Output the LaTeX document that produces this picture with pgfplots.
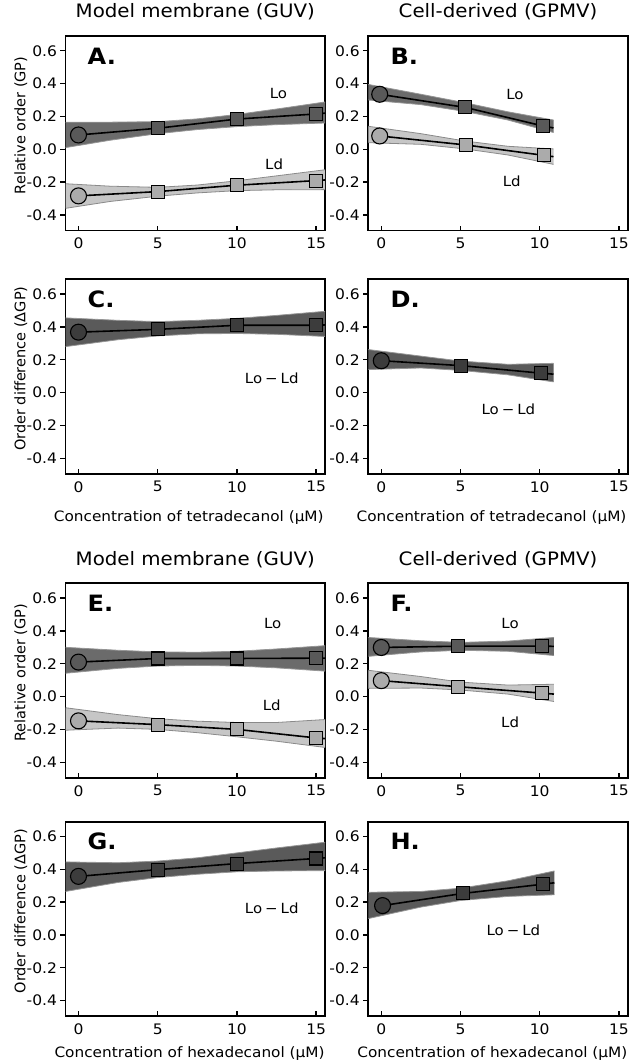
\documentclass[border=0pt]{standalone}
\usepackage{fontspec}
\setmainfont{DejaVu Sans}[FakeStretch=1.07]
\newfontfamily\ylfont{DejaVu Sans}
\usepackage{pgfplots}
\usepackage{pgfplotstable}
\pgfplotsset{compat=1.18}

\definecolor{locol}{HTML}{595959}
\definecolor{ldcol}{HTML}{ABABAB}
\definecolor{dfcol}{HTML}{3C3C3C}
\definecolor{loband}{HTML}{6B6B6B}
\definecolor{ldband}{HTML}{C6C6C6}
\definecolor{dfband}{HTML}{5A5A5A}
\definecolor{edgeA}{HTML}{959595}
\definecolor{edgeB}{HTML}{8A8A8A}

% band outlines: upper edge left->right, then lower edge right->left
\pgfplotstableread{
x y
-0.82 0.165
2 0.165
5 0.168
7.5 0.185
10 0.212
12.5 0.245
15.56 0.288
15.56 0.160
12.5 0.150
10 0.138
7.5 0.120
5 0.095
2 0.055
-0.82 0.010
}\aLoB
\pgfplotstableread{
x y
-0.82 -0.210
2 -0.225
5 -0.232
7.5 -0.218
10 -0.192
12.5 -0.162
15.56 -0.125
15.56 -0.246
12.5 -0.247
10 -0.252
7.5 -0.266
5 -0.286
2 -0.318
-0.82 -0.360
}\aLdB
\pgfplotstableread{
x y
-0.82 0.395
2.5 0.335
5.3 0.283
8 0.228
10.87 0.178
10.87 0.102
8 0.178
5.3 0.230
2.5 0.272
-0.82 0.300
}\bLoB
\pgfplotstableread{
x y
-0.82 0.140
2.5 0.095
5.3 0.050
8 0.018
10.87 0.002
10.87 -0.092
8 -0.035
5.3 0.002
2.5 0.030
-0.82 0.040
}\bLdB
\pgfplotstableread{
x y
-0.82 0.455
2.5 0.440
5 0.432
7.5 0.440
10 0.452
12.5 0.470
15.56 0.495
15.56 0.342
12.5 0.355
10 0.360
7.5 0.358
5 0.345
2.5 0.322
-0.82 0.280
}\cB
\pgfplotstableread{
x y
-0.82 0.262
2.5 0.222
5 0.192
8 0.172
10.87 0.178
10.87 0.065
8 0.108
5 0.135
2.5 0.150
-0.82 0.140
}\dB
\pgfplotstableread{
x y
-0.82 0.300
2.5 0.282
5 0.272
7.5 0.270
10 0.276
12.5 0.290
15.56 0.310
15.56 0.155
12.5 0.175
10 0.186
7.5 0.190
5 0.186
2.5 0.172
-0.82 0.142
}\eLoB
\pgfplotstableread{
x y
-0.82 -0.068
2.5 -0.110
5 -0.135
7.5 -0.150
10 -0.158
12.5 -0.158
15.56 -0.140
15.56 -0.310
12.5 -0.272
10 -0.245
7.5 -0.220
5 -0.200
2.5 -0.192
-0.82 -0.205
}\eLdB
\pgfplotstableread{
x y
-0.82 0.360
2.5 0.340
5 0.330
8 0.338
10.9 0.360
10.9 0.250
8 0.276
5 0.282
2.5 0.272
-0.82 0.245
}\fLoB
\pgfplotstableread{
x y
-0.82 0.160
2.5 0.122
5 0.088
8 0.070
10.9 0.075
10.9 -0.030
8 0.015
5 0.040
2.5 0.052
-0.82 0.050
}\fLdB
\pgfplotstableread{
x y
-0.82 0.445
2.5 0.440
5 0.450
7.5 0.470
10 0.500
12.5 0.530
15.56 0.565
15.56 0.392
12.5 0.390
10 0.385
7.5 0.370
5 0.350
2.5 0.320
-0.82 0.265
}\gB
\pgfplotstableread{
x y
-0.82 0.260
2.5 0.265
5 0.285
8 0.330
10.93 0.390
10.93 0.245
8 0.235
5 0.210
2.5 0.170
-0.82 0.100
}\hB

% #1 table, #2 number of points per edge, #3 fill, #4 edge colour
\newcommand{\band}[4]{%
  \addplot[fill=#3, draw=none, forget plot] table[x=x,y=y]{#1};
  \addplot[draw=#4, line width=0.8pt, forget plot, skip coords between index={#2}{100}] table[x=x,y=y]{#1};
  \addplot[draw=#4, line width=0.8pt, forget plot, skip coords between index={0}{#2}] table[x=x,y=y]{#1};
}

\pgfplotsset{
  panel/.style={
    width=259.5pt, height=194.5pt, scale only axis,
    anchor=north west,
    xmin=-0.82, xmax=15.56, ymin=-0.495, ymax=0.69,
    xtick={0,5,10,15}, xticklabels={0,5,10,15},
    ytick={-0.4,-0.2,0,0.2,0.4,0.6},
    yticklabels={-0.4,-0.2,0.0,0.2,0.4,0.6},
    xtick pos=left, ytick pos=left,
    xtick align=inside, ytick align=outside,
    major tick length=5pt,
    tick style={black, line width=1.4pt},
    axis line style={line width=1.8pt},
    tick label style={font=\fontsize{14.5}{17}\selectfont},
    xticklabel style={yshift=-4pt},
    /pgf/number format/assume math mode=true,
    title style={font=\fontsize{18.5}{22}\selectfont, at={(0.5,1)}, anchor=center, yshift=18pt},
    ylabel style={font=\ylfont\fontsize{14.5}{17}\selectfont, at={(axis description cs:-0.172,0.54)}, anchor=center},
    xlabel style={font=\fontsize{14.3}{17}\selectfont, anchor=center},
  },
  ln/.style={black, line width=1.6pt},
  circ/.style={only marks, mark=*, mark size=8pt, mark options={draw=black, line width=1.1pt, fill=#1}},
  sq/.style={only marks, mark=square*, mark size=6.5pt, mark options={draw=black, line width=1.1pt, fill=#1}},
}
\newcommand{\letter}[1]{\node[anchor=west, font=\fontsize{22.5}{26}\selectfont\bfseries] at (rel axis cs:0.072,0.897) {#1};}
\newcommand{\lbl}{\fontsize{14}{16}\selectfont}

\begin{document}
\begin{tikzpicture}
\path[use as bounding box] (0pt,0pt) rectangle (631pt,-1063pt);

% ---------- A ----------
\begin{axis}[panel, at={(65.5pt,-36pt)}, title={Model membrane (GUV)}, ylabel={Relative order (GP)}]
\band{\aLoB}{7}{loband}{edgeA}
\band{\aLdB}{7}{ldband}{edgeB}
\addplot[ln] coordinates {(0,0.087)(5,0.128)(10,0.184)(15,0.215)(15.56,0.220)};
\addplot[ln] coordinates {(0,-0.284)(5,-0.258)(10,-0.219)(15,-0.191)(15.56,-0.187)};
\addplot[circ=locol] coordinates {(0,0.087)};
\addplot[sq=locol] coordinates {(5,0.128)(10,0.184)(15,0.215)};
\addplot[circ=ldcol] coordinates {(0,-0.284)};
\addplot[sq=ldcol] coordinates {(5,-0.258)(10,-0.219)(15,-0.191)};
\letter{A.}
\node[font=\lbl] at (axis cs:12.62,0.339) {Lo};
\node[font=\lbl] at (axis cs:12.35,-0.091) {Ld};
\end{axis}

% ---------- B ----------
\begin{axis}[panel, at={(368.3pt,-36pt)}, title={Cell-derived (GPMV)}]
\band{\bLoB}{5}{loband}{edgeA}
\band{\bLdB}{5}{ldband}{edgeB}
\addplot[ln] coordinates {(-0.1,0.335)(5.3,0.255)(10.2,0.142)(10.87,0.130)};
\addplot[ln] coordinates {(-0.1,0.081)(5.35,0.026)(10.25,-0.037)(10.87,-0.045)};
\addplot[circ=locol] coordinates {(-0.1,0.335)};
\addplot[sq=locol] coordinates {(5.3,0.255)(10.2,0.142)};
\addplot[circ=ldcol] coordinates {(-0.1,0.081)};
\addplot[sq=ldcol] coordinates {(5.35,0.026)(10.25,-0.037)};
\letter{B.}
\node[font=\lbl] at (axis cs:8.44,0.335) {Lo};
\node[font=\lbl] at (axis cs:8.23,-0.193) {Ld};
\end{axis}

% ---------- C ----------
\begin{axis}[panel, at={(65.5pt,-279.3pt)}, ylabel={Order difference (ΔGP)},
  xlabel={Concentration of tetradecanol (µM)}, xlabel style={at={(axis description cs:0.475,-0.225)}}]
\band{\cB}{7}{dfband}{edgeA}
\addplot[ln] coordinates {(0,0.368)(5,0.385)(10,0.410)(15,0.410)(15.56,0.412)};
\addplot[circ=dfcol] coordinates {(0,0.368)};
\addplot[sq=dfcol] coordinates {(5,0.385)(10,0.410)(15,0.410)};
\letter{C.}
\node[font=\lbl] at (axis cs:12.2,0.086) {Lo\hspace{3pt}−\hspace{3pt}Ld};
\end{axis}

% ---------- D ----------
\begin{axis}[panel, at={(368.3pt,-279.3pt)},
  xlabel={Concentration of tetradecanol (µM)}, xlabel style={at={(axis description cs:0.475,-0.225)}}]
\band{\dB}{5}{dfband}{edgeA}
\addplot[ln] coordinates {(0,0.194)(5.04,0.164)(10.1,0.118)(10.87,0.112)};
\addplot[circ=dfcol] coordinates {(0,0.194)};
\addplot[sq=dfcol] coordinates {(5.04,0.164)(10.1,0.118)};
\letter{D.}
\node[font=\lbl] at (axis cs:8.02,-0.103) {Lo\hspace{3pt}−\hspace{3pt}Ld};
\end{axis}

% ---------- E ----------
\begin{axis}[panel, at={(65.5pt,-583.3pt)}, title={Model membrane (GUV)}, ylabel={Relative order (GP)}]
\band{\eLoB}{7}{loband}{edgeA}
\band{\eLdB}{7}{ldband}{edgeB}
\addplot[ln] coordinates {(0,0.210)(5,0.232)(10,0.232)(15,0.234)(15.56,0.234)};
\addplot[ln] coordinates {(0,-0.148)(5,-0.171)(10,-0.200)(15,-0.252)(15.56,-0.256)};
\addplot[circ=locol] coordinates {(0,0.210)};
\addplot[sq=locol] coordinates {(5,0.232)(10,0.232)(15,0.234)};
\addplot[circ=ldcol] coordinates {(0,-0.148)};
\addplot[sq=ldcol] coordinates {(5,-0.171)(10,-0.200)(15,-0.252)};
\letter{E.}
\node[font=\lbl] at (axis cs:12.26,0.448) {Lo};
\node[font=\lbl] at (axis cs:12.2,-0.051) {Ld};
\end{axis}

% ---------- F ----------
\begin{axis}[panel, at={(368.3pt,-583.3pt)}, title={Cell-derived (GPMV)}]
\band{\fLoB}{5}{loband}{edgeA}
\band{\fLdB}{5}{ldband}{edgeB}
\addplot[ln] coordinates {(0,0.299)(4.87,0.307)(10.16,0.307)(10.9,0.306)};
\addplot[ln] coordinates {(0,0.097)(4.87,0.060)(10.16,0.021)(10.9,0.015)};
\addplot[circ=locol] coordinates {(0,0.299)};
\addplot[sq=locol] coordinates {(4.87,0.307)(10.16,0.307)};
\addplot[circ=ldcol] coordinates {(0,0.097)};
\addplot[sq=ldcol] coordinates {(4.87,0.060)(10.16,0.021)};
\letter{F.}
\node[font=\lbl] at (axis cs:8.13,0.448) {Lo};
\node[font=\lbl] at (axis cs:8.13,-0.155) {Ld};
\end{axis}

% ---------- G ----------
\begin{axis}[panel, at={(65.5pt,-821.7pt)}, ylabel={Order difference (ΔGP)},
  xlabel={Concentration of hexadecanol (µM)}, xlabel style={at={(axis description cs:0.478,-0.193)}}]
\band{\gB}{7}{dfband}{edgeA}
\addplot[ln] coordinates {(0,0.357)(5,0.398)(10,0.435)(15,0.466)(15.56,0.470)};
\addplot[circ=dfcol] coordinates {(0,0.357)};
\addplot[sq=dfcol] coordinates {(5,0.398)(10,0.435)(15,0.466)};
\letter{G.}
\node[font=\lbl] at (axis cs:12.2,0.165) {Lo\hspace{3pt}−\hspace{3pt}Ld};
\end{axis}

% ---------- H ----------
\begin{axis}[panel, at={(368.3pt,-821.7pt)},
  xlabel={Concentration of hexadecanol (µM)}, xlabel style={at={(axis description cs:0.478,-0.193)}}]
\band{\hB}{5}{dfband}{edgeA}
\addplot[ln] coordinates {(0.08,0.179)(5.14,0.253)(10.18,0.309)(10.93,0.318)};
\addplot[circ=dfcol] coordinates {(0.08,0.179)};
\addplot[sq=dfcol] coordinates {(5.14,0.253)(10.18,0.309)};
\letter{H.}
\node[font=\lbl] at (axis cs:8.34,0.031) {Lo\hspace{3pt}−\hspace{3pt}Ld};
\end{axis}
\end{tikzpicture}
\end{document}
